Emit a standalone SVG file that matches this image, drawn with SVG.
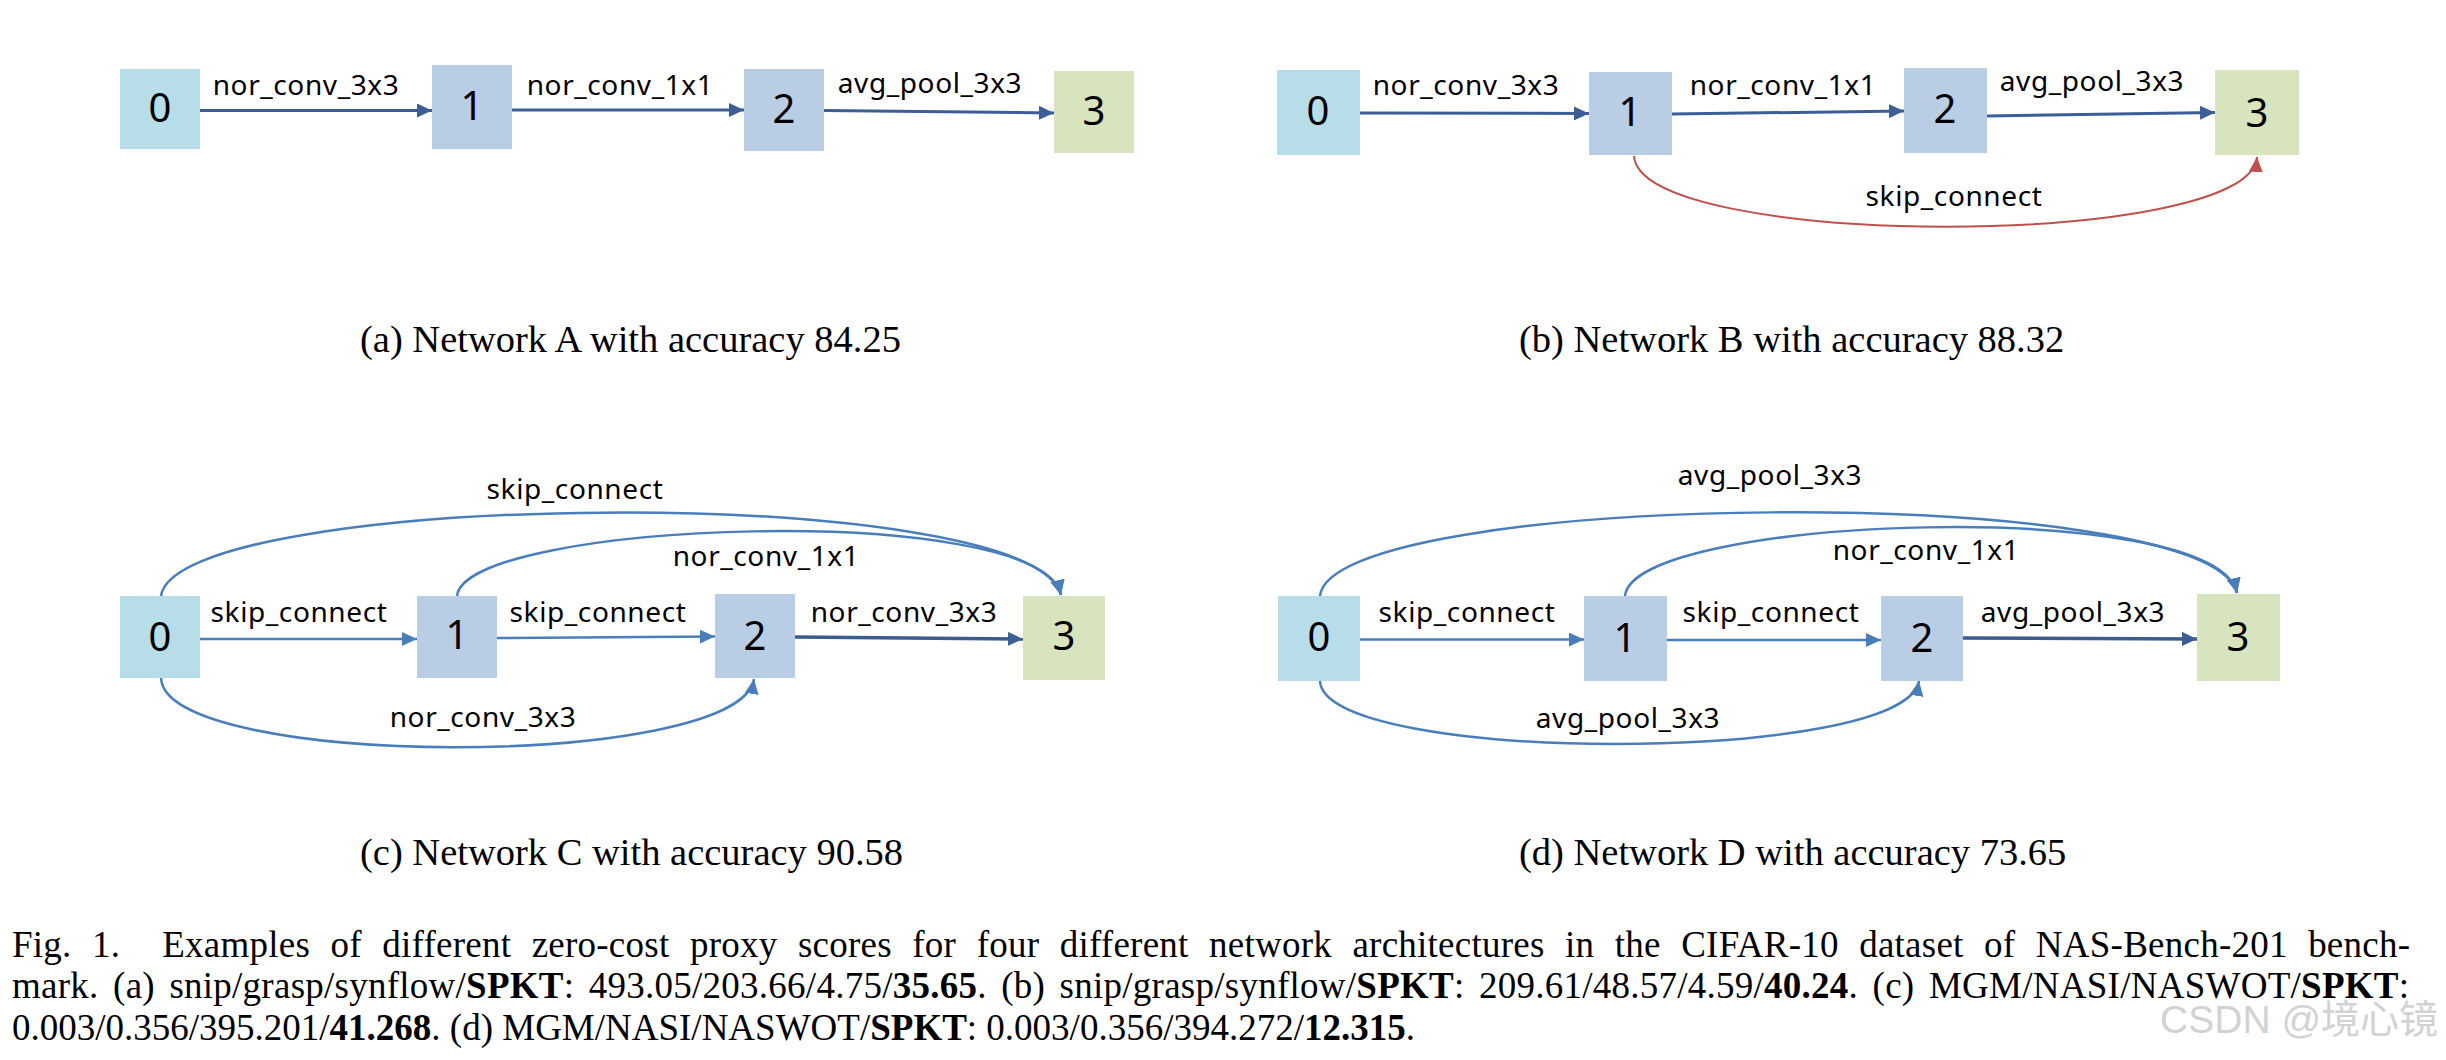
<svg xmlns="http://www.w3.org/2000/svg" width="2446" height="1060" viewBox="0 0 2446 1060">
<style>
.n0{fill:#b7dde8}
.n12{fill:#b9cde5}
.n3{fill:#d7e4bd}
.dig{font-family:"Noto Sans",sans-serif;font-size:40px;fill:#000;text-anchor:middle}
.lbl{font-family:"Noto Sans",sans-serif;font-size:28px;letter-spacing:0.6px;fill:#000;text-anchor:middle}
.dk{fill:none;stroke:#3b5e96;stroke-width:3}
.dk2{fill:none;stroke:#3b5c8e;stroke-width:3.5}
.lt{fill:none;stroke:#4a7ebb;stroke-width:2.5}
.rd{fill:none;stroke:#c0504d;stroke-width:2}
.sub{font-family:"Liberation Serif",serif;font-size:38.5px;fill:#000}
.cap{font-family:"Liberation Serif",serif;font-size:37px;fill:#000}
.b{font-weight:bold}
.wm{font-family:"Liberation Sans","Noto Sans CJK SC",sans-serif;font-size:39px;fill:#d2d2d2;text-anchor:end}
</style>
<defs>
<marker id="adk" markerUnits="userSpaceOnUse" markerWidth="16" markerHeight="14" refX="15" refY="7" orient="auto"><path d="M0,0 L15,7 L0,14 z" fill="#3b5e96"/></marker>
<marker id="alt" markerUnits="userSpaceOnUse" markerWidth="16" markerHeight="14" refX="15" refY="7" orient="auto"><path d="M0,0 L15,7 L0,14 z" fill="#4a7ebb"/></marker>
<marker id="ard" markerUnits="userSpaceOnUse" markerWidth="16" markerHeight="14" refX="15" refY="7" orient="auto"><path d="M0,0 L15,7 L0,14 z" fill="#c0504d"/></marker>
</defs>
<rect width="2446" height="1060" fill="#fff"/>

<g id="connectors">
<!-- (a) -->
<line class="dk" x1="200" y1="110.5" x2="432" y2="110.5" marker-end="url(#adk)"/>
<line class="dk" x1="512" y1="110" x2="744" y2="110" marker-end="url(#adk)"/>
<line class="dk" x1="824" y1="110.5" x2="1054" y2="113" marker-end="url(#adk)"/>
<!-- (b) -->
<line class="dk" x1="1360" y1="113" x2="1589" y2="113.5" marker-end="url(#adk)"/>
<line class="dk" x1="1672" y1="114" x2="1904" y2="111" marker-end="url(#adk)"/>
<line class="dk" x1="1987" y1="116" x2="2215" y2="112.5" marker-end="url(#adk)"/>
<path class="rd" d="M1634,156 C1640,250 2250,250 2257,157" marker-end="url(#ard)"/>
<!-- (c) -->
<line class="lt" x1="200" y1="639" x2="417" y2="639" marker-end="url(#alt)"/>
<line class="lt" x1="497" y1="638" x2="715" y2="636.5" marker-end="url(#alt)"/>
<line class="dk2" x1="795" y1="637" x2="1023" y2="639" marker-end="url(#adk)"/>
<path class="lt" d="M161,596 C175,490 1030,480 1061,595" marker-end="url(#alt)"/>
<path class="lt" d="M457,596 C465,520 1040,500 1061,595" marker-end="url(#alt)"/>
<path class="lt" d="M161,678 C165,770 740,770 754,679" marker-end="url(#alt)"/>
<!-- (d) -->
<line class="lt" x1="1360" y1="639.5" x2="1584" y2="639.5" marker-end="url(#alt)"/>
<line class="lt" x1="1667" y1="640" x2="1881" y2="640" marker-end="url(#alt)"/>
<line class="dk2" x1="1963" y1="638" x2="2197" y2="639" marker-end="url(#adk)"/>
<path class="lt" d="M1320,596 C1330,490 2210,480 2237,593" marker-end="url(#alt)"/>
<path class="lt" d="M1625,596 C1633,515 2215,495 2237,593" marker-end="url(#alt)"/>
<path class="lt" d="M1320,681 C1324,765 1905,765 1919,681" marker-end="url(#alt)"/>
</g>

<g id="edge-labels">
<text class="lbl" x="306" y="95">nor_conv_3x3</text>
<text class="lbl" x="620" y="95">nor_conv_1x1</text>
<text class="lbl" x="930" y="93">avg_pool_3x3</text>

<text class="lbl" x="1466" y="95">nor_conv_3x3</text>
<text class="lbl" x="1783" y="95">nor_conv_1x1</text>
<text class="lbl" x="2092" y="91">avg_pool_3x3</text>
<text class="lbl" x="1954" y="206">skip_connect</text>

<text class="lbl" x="575" y="499">skip_connect</text>
<text class="lbl" x="766" y="566">nor_conv_1x1</text>
<text class="lbl" x="299" y="622">skip_connect</text>
<text class="lbl" x="598" y="622">skip_connect</text>
<text class="lbl" x="904" y="622">nor_conv_3x3</text>
<text class="lbl" x="483" y="727">nor_conv_3x3</text>

<text class="lbl" x="1770" y="485">avg_pool_3x3</text>
<text class="lbl" x="1926" y="560">nor_conv_1x1</text>
<text class="lbl" x="1467" y="622">skip_connect</text>
<text class="lbl" x="1771" y="622">skip_connect</text>
<text class="lbl" x="2073" y="622">avg_pool_3x3</text>
<text class="lbl" x="1628" y="728">avg_pool_3x3</text>
</g>

<!-- (a) nodes -->
<g id="a-n0"><rect class="n0" x="120" y="69" width="80" height="80"/><text class="dig" x="160" y="122">0</text></g>
<g id="a-n1"><rect class="n12" x="432" y="65" width="80" height="84"/><text class="dig" x="472" y="120">1</text></g>
<g id="a-n2"><rect class="n12" x="744" y="69" width="80" height="82"/><text class="dig" x="784" y="123">2</text></g>
<g id="a-n3"><rect class="n3" x="1054" y="71" width="80" height="82"/><text class="dig" x="1094" y="125">3</text></g>
<!-- (b) nodes -->
<g id="b-n0"><rect class="n0" x="1277" y="70" width="83" height="85"/><text class="dig" x="1318" y="125">0</text></g>
<g id="b-n1"><rect class="n12" x="1589" y="72" width="83" height="83"/><text class="dig" x="1630" y="126">1</text></g>
<g id="b-n2"><rect class="n12" x="1904" y="68" width="83" height="85"/><text class="dig" x="1945" y="123">2</text></g>
<g id="b-n3"><rect class="n3" x="2215" y="70" width="84" height="85"/><text class="dig" x="2257" y="127">3</text></g>
<!-- (c) nodes -->
<g id="c-n0"><rect class="n0" x="120" y="596" width="80" height="82"/><text class="dig" x="160" y="651">0</text></g>
<g id="c-n1"><rect class="n12" x="417" y="596" width="80" height="82"/><text class="dig" x="457" y="649">1</text></g>
<g id="c-n2"><rect class="n12" x="715" y="594" width="80" height="84"/><text class="dig" x="755" y="650">2</text></g>
<g id="c-n3"><rect class="n3" x="1023" y="596" width="82" height="84"/><text class="dig" x="1064" y="650">3</text></g>
<!-- (d) nodes -->
<g id="d-n0"><rect class="n0" x="1278" y="596" width="82" height="85"/><text class="dig" x="1319" y="651">0</text></g>
<g id="d-n1"><rect class="n12" x="1584" y="596" width="83" height="85"/><text class="dig" x="1625" y="652">1</text></g>
<g id="d-n2"><rect class="n12" x="1881" y="596" width="82" height="85"/><text class="dig" x="1922" y="652">2</text></g>
<g id="d-n3"><rect class="n3" x="2197" y="594" width="83" height="87"/><text class="dig" x="2238" y="651">3</text></g>

<g id="subcaptions">
<text class="sub" x="360" y="352">(a) Network A with accuracy 84.25</text>
<text class="sub" x="1519" y="352">(b) Network B with accuracy 88.32</text>
<text class="sub" x="360" y="865">(c) Network C with accuracy 90.58</text>
<text class="sub" x="1519" y="865">(d) Network D with accuracy 73.65</text>
</g>

<g id="caption">
<text class="cap" x="12" y="957" word-spacing="11" textLength="2398" lengthAdjust="spacing">Fig. 1.<tspan dx="42">Examples of different zero-cost proxy scores for four different network architectures in the CIFAR-10 dataset of NAS-Bench-201 bench-</tspan></text>
<text class="cap" x="12" y="998" word-spacing="5" textLength="2397" lengthAdjust="spacing">mark. (a) snip/grasp/synflow/<tspan class="b">SPKT</tspan>: 493.05/203.66/4.75/<tspan class="b">35.65</tspan>. (b) snip/grasp/synflow/<tspan class="b">SPKT</tspan>: 209.61/48.57/4.59/<tspan class="b">40.24</tspan>. (c) MGM/NASI/NASWOT/<tspan class="b">SPKT</tspan>:</text>
<text class="cap" x="12" y="1040">0.003/0.356/395.201/<tspan class="b">41.268</tspan>. (d) MGM/NASI/NASWOT/<tspan class="b">SPKT</tspan>: 0.003/0.356/394.272/<tspan class="b">12.315</tspan>.</text>
</g>

<text class="wm" x="2438" y="1033">CSDN @境心镜</text>
</svg>
